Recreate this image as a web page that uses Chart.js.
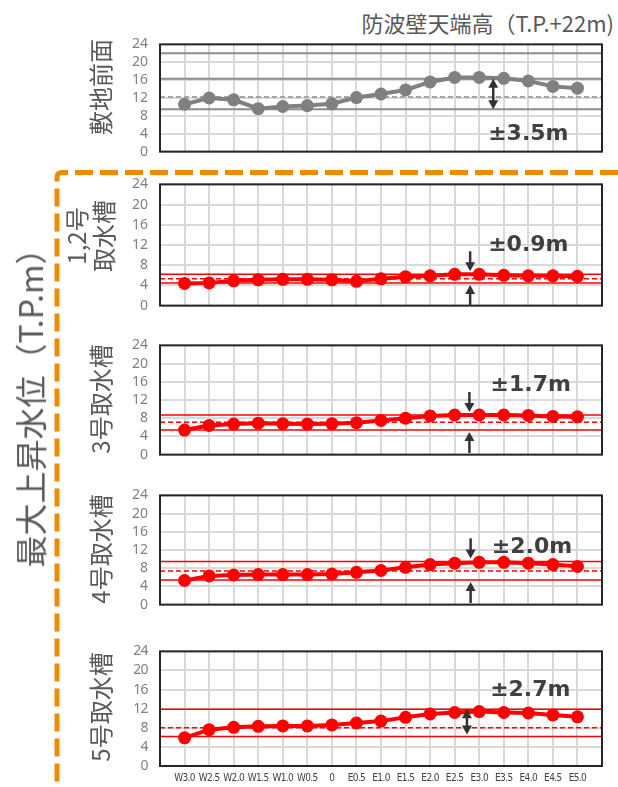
<!DOCTYPE html>
<html><head><meta charset="utf-8">
<script src="https://cdn.jsdelivr.net/npm/chart.js@4/dist/chart.umd.min.js"></script>
<style>
html,body{margin:0;padding:0;background:#fff;}
#wrap{position:relative;width:618px;height:787px;overflow:hidden;font-family:"Noto Sans CJK JP",sans-serif;}
canvas.c{position:absolute;left:0;}
.lbl{position:absolute;white-space:pre;color:#595959;transform:translate(-50%,-50%) rotate(-90deg);line-height:1.12;text-align:center;}
#title{position:absolute;right:4px;top:6px;font-size:22px;color:#595959;white-space:nowrap;}
svg{position:absolute;left:0;top:0;}
</style></head><body>
<div id="wrap">
<svg width="618" height="787"><path d="M618 172.5 H62 Q57 172.5 57 177.5 V787" stroke="#f28a00" stroke-width="5" fill="none" stroke-dasharray="18 7"/></svg>
<div id="title">防波壁天端高（T.P.+22m)</div>
</div>
<script>
// ---- data ----
const categories = ['W3.0','W2.5','W2.0','W1.5','W1.0','W0.5','0','E0.5','E1.0','E1.5','E2.0','E2.5','E3.0','E3.5','E4.0','E4.5','E5.0'];
const siteFront = [10.6,12.0,11.6,9.6,10.1,10.3,10.7,12.1,12.9,13.8,15.6,16.6,16.6,16.4,15.8,14.6,14.2];
const intake12  = [4.4,4.5,4.9,5.1,5.2,5.2,5.1,4.8,5.3,5.7,5.9,6.2,6.2,6.0,5.9,5.9,5.8];
const intake3   = [5.4,6.4,6.7,6.9,6.8,6.7,6.8,7.0,7.5,8.0,8.5,8.7,8.7,8.7,8.6,8.4,8.3];
const intake4   = [5.3,6.3,6.5,6.6,6.6,6.6,6.7,7.1,7.5,8.2,8.8,9.1,9.3,9.3,9.1,8.8,8.4];
const intake5   = [5.9,7.6,8.1,8.3,8.4,8.4,8.6,9.0,9.4,10.2,10.9,11.2,11.4,11.2,11.1,10.7,10.3];
const wallTop = 22;
// reference levels: [upper, centre, lower]
const siteFrontBand = [16.3, 12.2, 9.5];
const intake12Band  = [6.2, 5.3, 4.5];
const intake3Band   = [8.7, 7.1, 5.4];
const intake4Band   = [9.5, 7.4, 5.4];
const intake5Band   = [11.9, 8.0, 6.2];
const spreads = ['±3.5m','±0.9m','±1.7m','±2.0m','±2.7m'];
const rowNames = ['敷地前面','1,2号\n取水槽','3号取水槽','4号取水槽','5号取水槽'];
const yAxisTitle = '最大上昇水位（T.P.m）';
const yMin = 0, yMax = 24, yStep = 4;

// ---- layout ----
const wrap = document.getElementById('wrap');
const panels = [
  {top:36,  bottom:160, values:siteFront, band:siteFrontBand, extra:[wallTop], color:'#808080', lineColor:'#8c8c8c', dashColor:'#a6a6a6', arrow:'double', ax:12.57, textX:14.0, textY:3.9},
  {top:176, bottom:314, values:intake12, band:intake12Band, color:'#ff0000', lineColor:'#ff0000', dashColor:'#ff0000', arrow:'outside', ax:11.63, textX:14.0, textY:12.0},
  {top:337, bottom:463, values:intake3, band:intake3Band, color:'#ff0000', lineColor:'#ff0000', dashColor:'#ff0000', arrow:'outside', ax:11.6, textX:14.1, textY:15.25},
  {top:487, bottom:613, values:intake4, band:intake4Band, color:'#ff0000', lineColor:'#ff0000', dashColor:'#ff0000', arrow:'outside', ax:11.65, textX:14.15, textY:12.6},
  {top:643, bottom:766, values:intake5, band:intake5Band, color:'#ff0000', lineColor:'#ff0000', dashColor:'#ff0000', arrow:'doubleShort', ax:11.5, textX:14.08, textY:15.8, last:true}
];
const labelPos = [[100,87,24],[90,236,24],[100,399,24],[100,549,24],[100,707,24]];

function arrowHead(ctx, x, tipY, dir){ // dir: +1 pointing down, -1 pointing up
  ctx.beginPath();
  ctx.moveTo(x, tipY);
  ctx.lineTo(x-5, tipY - dir*9);
  ctx.lineTo(x+5, tipY - dir*9);
  ctx.closePath();
  ctx.fill();
}
function arrowLine(ctx, x, y1, y2){
  ctx.beginPath(); ctx.moveTo(x,y1); ctx.lineTo(x,y2); ctx.stroke();
}

const decor = {
  id:'decor',
  beforeDraw(chart){
    if (chart.options.plugins.decor.tight) chart.ctx.letterSpacing = '-0.6px';
  },
  afterDraw(chart){
    const {ctx, chartArea:a, scales:{x,y}} = chart;
    const p = chart.options.plugins.decor;
    ctx.save();
    ctx.letterSpacing = '0px';
    ctx.strokeStyle = '#262626'; ctx.lineWidth = 2;
    ctx.strokeRect(a.left, a.top, a.right-a.left, a.bottom-a.top);
    ctx.strokeStyle = '#333333'; ctx.fillStyle = '#333333'; ctx.lineWidth = 2.5;
    const ax = x.getPixelForValue(p.ax);
    const up = y.getPixelForValue(p.band[0]);
    const lo = y.getPixelForValue(p.band[2]);
    if (p.arrow === 'double') {
      arrowLine(ctx, ax, up+6, lo-6);
      arrowHead(ctx, ax, up, -1);
      arrowHead(ctx, ax, lo, 1);
    } else if (p.arrow === 'doubleShort') {
      arrowLine(ctx, ax, up+6, lo-8);
      arrowHead(ctx, ax, up, -1);
      arrowHead(ctx, ax, lo-2, 1);
    } else {
      arrowLine(ctx, ax, up-23, up-8);
      arrowHead(ctx, ax, up-3, 1);
      arrowLine(ctx, ax, lo+23, lo+8);
      arrowHead(ctx, ax, lo+2, -1);
    }
    ctx.font = 'bold 22px "DejaVu Sans"';
    ctx.fillStyle = '#404040';
    ctx.textAlign = 'center'; ctx.textBaseline = 'middle';
    ctx.fillText(p.text, x.getPixelForValue(p.textX), y.getPixelForValue(p.textY));
    ctx.restore();
  }
};

panels.forEach((p, i) => {
  const padT = 12, padB = p.last ? 0 : 12, xH = p.last ? 21 : 0;
  const cv = document.createElement('canvas');
  cv.className = 'c';
  const h = p.bottom - p.top + padT + padB + xH;
  cv.width = 618; cv.height = h;
  cv.style.top = (p.top - padT) + 'px';
  cv.style.width = '618px'; cv.style.height = h + 'px';
  wrap.appendChild(cv);

  const refLine = (v, color, dash, w) => ({
    data:[{x:-1,y:v},{x:categories.length,y:v}],
    borderColor:color, borderWidth:w, borderDash:dash, pointRadius:0, order:2, tension:0
  });
  const datasets = [{
    data: p.values.map((v,k)=>({x:k,y:v})),
    borderColor:p.color, backgroundColor:p.color, pointBackgroundColor:p.color,
    pointBorderWidth:0, pointRadius:6.5, borderWidth:4, order:0, clip:false
  }];
  const solidW = i===0 ? 2 : 1.5;
  datasets.push(refLine(p.band[0], p.lineColor, [], solidW));
  datasets.push(refLine(p.band[1], p.dashColor, [5,3], solidW));
  datasets.push(refLine(p.band[2], p.lineColor, [], solidW));
  (p.extra||[]).forEach(v => datasets.push(refLine(v, p.lineColor, [], 2)));

  new Chart(cv, {
    type:'line',
    data:{datasets},
    plugins:[decor],
    options:{
      responsive:false, animation:false, events:[],
      layout:{padding:{left:0,right:16,top:padT,bottom:padB}},
      plugins:{legend:{display:false}, tooltip:{enabled:false},
        decor:{band:p.band, arrow:p.arrow, ax:p.ax, text:spreads[i], textX:p.textX, textY:p.textY, tight:!!p.last}},
      scales:{
        x:{type:'linear', min:-1, max:categories.length,
           grid:{color:'#d9d9d9', lineWidth:2, drawTicks:false},
           border:{display:false},
           ticks:{display:!!p.last, stepSize:1, autoSkip:false, maxTicksLimit:100, maxRotation:0, minRotation:0, padding:6,
                  color:'#404040', font:{family:'"DejaVu Sans Condensed","Liberation Sans Narrow","Liberation Sans"', size:10},
                  callback:(v)=> (categories[v] !== undefined ? categories[v] : '')},
           afterFit:(s)=>{ s.height = xH; }
        },
        y:{min:yMin, max:yMax,
           grid:{color:'#d9d9d9', lineWidth:2, drawTicks:false},
           border:{display:false},
           ticks:{stepSize:yStep, autoSkip:false, padding:12, color:'#808080', font:{family:'"Noto Sans"', size:14}},
           afterFit:(s)=>{ s.width = 160; }
        }
      }
    }
  });
});

rowNames.forEach((t,i)=>{
  const d = document.createElement('div');
  d.className='lbl'; d.textContent=t;
  d.style.left=labelPos[i][0]+'px'; d.style.top=labelPos[i][1]+'px'; d.style.fontSize=labelPos[i][2]+'px';
  wrap.appendChild(d);
});
const yt = document.createElement('div');
yt.className='lbl'; yt.textContent=yAxisTitle;
yt.style.left='30px'; yt.style.top='400px'; yt.style.fontSize='32px';
wrap.appendChild(yt);
</script>
</body></html>
